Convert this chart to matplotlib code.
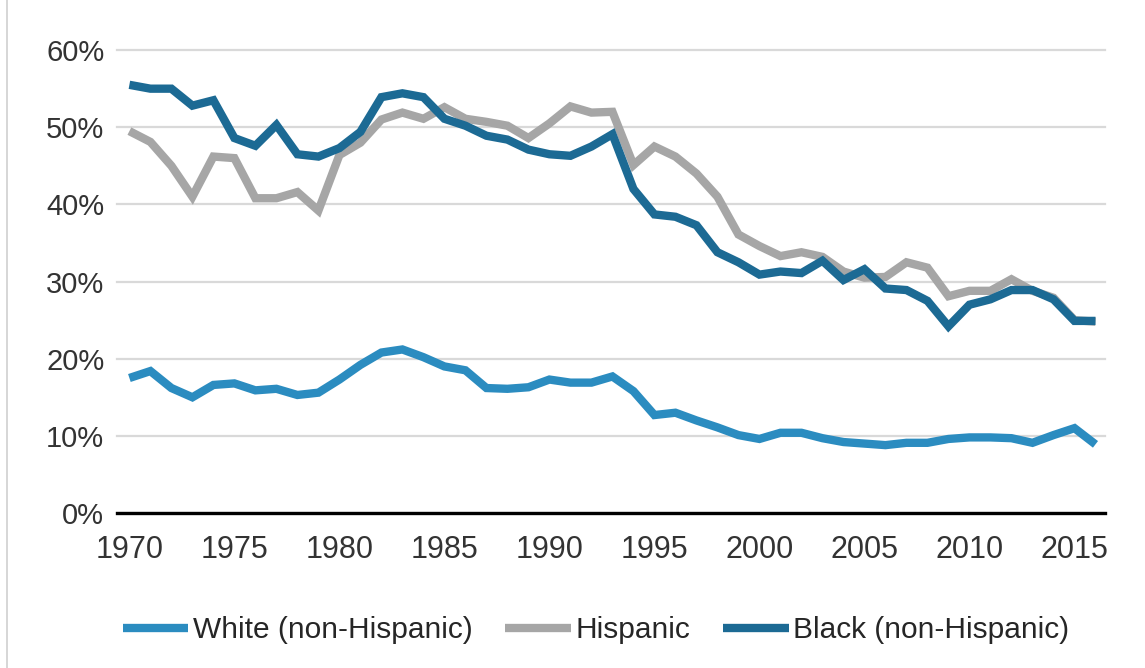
import matplotlib
matplotlib.use('Agg')
import matplotlib.pyplot as plt
from matplotlib.lines import Line2D

years = list(range(1970, 2017))

white = [17.5, 18.4, 16.2, 15.0, 16.6, 16.8, 15.9, 16.1, 15.3, 15.6,
         17.3, 19.2, 20.8, 21.2, 20.2, 19.0, 18.5, 16.2, 16.1, 16.3,
         17.3, 16.9, 16.9, 17.7, 15.8, 12.7, 13.0, 12.0, 11.1, 10.1,
         9.6, 10.4, 10.4, 9.7, 9.2, 9.0, 8.8, 9.1, 9.1, 9.6,
         9.8, 9.8, 9.7, 9.1, 10.1, 11.0, 8.9]

hispanic = [49.5, 48.1, 45.0, 41.0, 46.2, 46.0, 40.8, 40.8, 41.6, 39.2,
            46.4, 48.0, 51.0, 51.9, 51.1, 52.6, 51.1, 50.7, 50.2, 48.6,
            50.5, 52.7, 51.9, 52.0, 45.1, 47.5, 46.2, 44.0, 41.0, 36.1,
            34.6, 33.3, 33.8, 33.2, 31.3, 30.5, 30.6, 32.5, 31.8, 28.1,
            28.8, 28.8, 30.3, 28.8, 27.9, 25.0, 24.8]

black = [55.5, 55.0, 55.0, 52.8, 53.5, 48.6, 47.6, 50.3, 46.5, 46.2,
         47.3, 49.4, 53.9, 54.4, 53.9, 51.1, 50.2, 48.9, 48.4, 47.1,
         46.5, 46.3, 47.5, 49.1, 42.0, 38.7, 38.4, 37.3, 33.8, 32.5,
         30.9, 31.3, 31.1, 32.7, 30.2, 31.6, 29.1, 28.9, 27.5, 24.2,
         27.0, 27.7, 28.9, 28.9, 27.7, 24.9, 24.9]

labels = ['White (non-Hispanic)', 'Hispanic', 'Black (non-Hispanic)']
colors = ['#2b8cc0', '#a6a6a6', '#1c6a94']
xticks = list(range(1970, 2016, 5))
yticks = list(range(0, 61, 10))

plt.rcParams['font.family'] = ['Liberation Sans', 'DejaVu Sans']

fig = plt.figure(figsize=(11.45, 6.68), dpi=100)
ax = fig.add_axes([0.102, 0.232, 0.863, 0.693])

for vals, lab, col in zip([white, hispanic, black], labels, colors):
    ax.plot(years, vals, color=col, lw=6, label=lab, solid_capstyle='butt',
            solid_joinstyle='miter', zorder=3)

ax.set_xlim(1969.4, 2016.45)
ax.set_ylim(0, 60)
ax.set_xticks(xticks)
ax.set_yticks(yticks)
ax.set_yticklabels([f'{v}%' for v in yticks])
ax.grid(axis='y', color='#d9d9d9', lw=1.6, zorder=0)
for gl in ax.get_ygridlines():
    gl.set_clip_on(False)
for s in ['top', 'right', 'left']:
    ax.spines[s].set_visible(False)
ax.spines['bottom'].set_color('black')
ax.spines['bottom'].set_linewidth(2.4)
ax.spines['bottom'].set_zorder(4)
ax.tick_params(axis='x', length=0, labelsize=22, colors='#333333', pad=16)
ax.tick_params(axis='y', length=0, labelsize=21, colors='#333333', pad=9)

ax.legend(loc='upper center', bbox_to_anchor=(0.485, -0.165), ncol=3, frameon=False,
          fontsize=21.5, handlelength=2.2, handletextpad=0.15, columnspacing=1.1,
          labelcolor='#262626')

fig.add_artist(Line2D([0.006, 0.006], [0, 1], color='#d0d0d0', lw=1.2))

fig.savefig('out.png', dpi=100, facecolor='white')
